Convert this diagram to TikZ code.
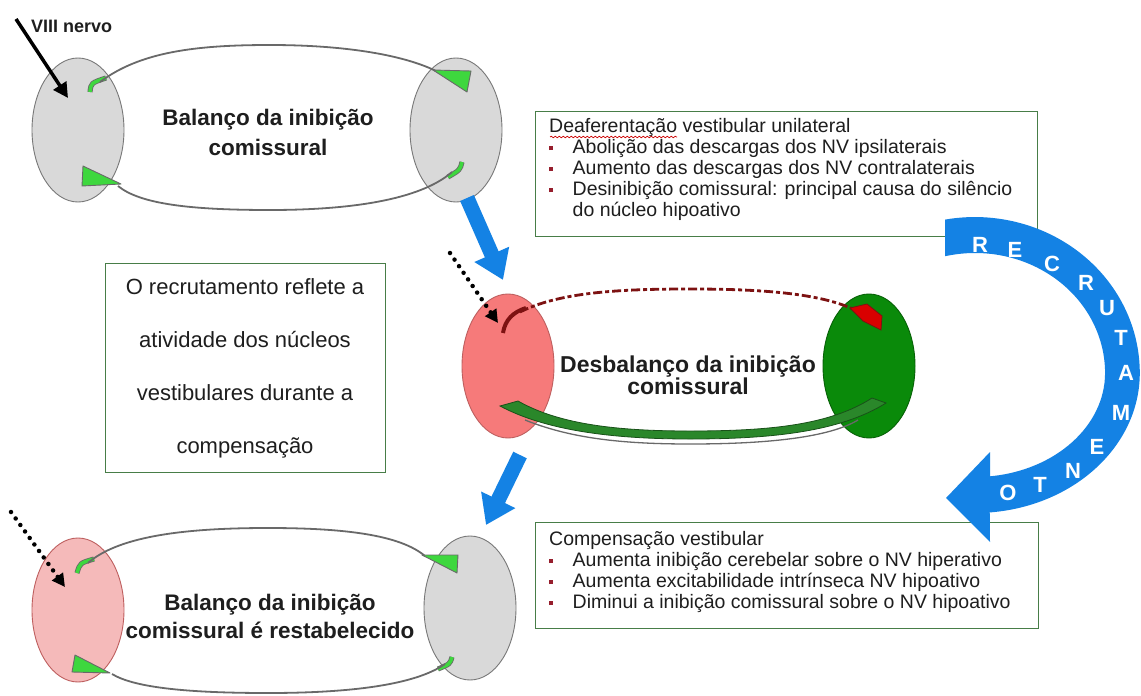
\documentclass[tikz,border=0pt]{standalone}
\usepackage{fontspec}
\setmainfont{Liberation Sans}
\usetikzlibrary{arrows.meta,shapes.geometric,calc,decorations.pathmorphing}
\definecolor{ellgray}{RGB}{217,217,217}
\definecolor{ellline}{RGB}{120,120,120}
\definecolor{arcgray}{RGB}{105,105,105}
\definecolor{lgreen}{RGB}{62,215,62}
\definecolor{salmon}{RGB}{246,122,122}
\definecolor{salmonline}{RGB}{190,95,95}
\definecolor{dgreen}{RGB}{10,138,10}
\definecolor{bandgreen}{RGB}{42,135,42}
\definecolor{pinkell}{RGB}{245,186,186}
\definecolor{boxgreen}{RGB}{72,125,72}
\definecolor{bblue}{RGB}{20,130,228}
\definecolor{bulletred}{RGB}{150,30,45}
\definecolor{dred}{RGB}{125,18,18}
\definecolor{txt}{RGB}{30,30,30}
\newcommand{\bul}{\makebox[23.5pt][l]{\textcolor{bulletred}{\rule[3pt]{4pt}{4pt}}}}
\begin{document}
\begin{tikzpicture}[x=1pt,y=-1pt,
  ell/.style={ellipse, minimum width=92pt, minimum height=144pt, inner sep=0pt, draw=ellline, line width=0.9pt},
  arcline/.style={draw=arcgray, line width=1.8pt},
  hookline/.style={draw=arcgray, line width=0.8pt, double=lgreen, double distance=3.5pt},
  headtri/.style={fill=lgreen, draw=arcgray, line width=0.9pt, line join=round},
  lbl/.style={font=\bfseries\fontsize{22.5}{30}\selectfont, align=center, inner sep=0pt, anchor=north, text=txt},
  boxframe/.style={draw=boxgreen, line width=1.3pt, fill=white, inner sep=0pt, anchor=north west},
  listtxt/.style={font=\fontsize{19.5}{21}\selectfont, align=left, anchor=north west, inner sep=0pt, text=txt},
  bluearrow/.style={draw=bblue, line width=15pt, -{Triangle[length=28pt,width=36pt]}},
  dotarrow/.style={line width=4.5pt, dash pattern=on 0pt off 8pt, line cap=round, -{Triangle[length=13pt,width=13pt]}},
  letter/.style={text=white, font=\bfseries\fontsize{22}{22}\selectfont, inner sep=0pt}
]
\useasboundingbox (0,0) rectangle (1141,696);
\fill[white] (0,0) rectangle (1141,696);

% ---------- text boxes ----------
\node[boxframe, minimum width=502pt, minimum height=125pt] (B1) at (535,111) {};
\node[listtxt] (B1t) at (549,116) {\rule{0pt}{16pt}Deaferentação vestibular unilateral\\
\bul Abolição das descargas dos NV ipsilaterais\\
\bul Aumento das descargas dos NV contralaterais\\
\bul Desinibição comissural: principal causa do silêncio\\
\makebox[23.5pt]{}do núcleo hipoativo};
\draw[red!80!black, line width=0.7pt, decorate, decoration={snake, amplitude=0.8pt, segment length=4pt}] (550,137) -- (677,137);

\node[boxframe, minimum width=503pt, minimum height=106pt] (B2) at (535,522) {};
\node[listtxt] (B2t) at (549,529) {\rule{0pt}{16pt}Compensação vestibular\\
\bul Aumenta inibição cerebelar sobre o NV hiperativo\\
\bul Aumenta excitabilidade intrínseca NV hipoativo\\
\bul Diminui a inibição comissural sobre o NV hipoativo};

\node[boxframe, minimum width=280pt, minimum height=209pt] (B3) at (105,263) {};
\node[font=\fontsize{22}{53}\selectfont, align=center, anchor=north, inner sep=0pt, text=txt] (B3t) at (245,276)
 {\rule{0pt}{18pt}O recrutamento reflete a\\atividade dos núcleos\\vestibulares durante a\\compensação};

% ---------- RECRUTAMENTO curved arrow ----------
\fill[bblue] (945,219.6) arc[start angle=-100.4, end angle=0, x radius=165, y radius=156]
  arc[start angle=0, end angle=84.8, x radius=165, y radius=140]
  -- (990,542) -- (946,498) -- (990,452) -- (990,476.3)
  arc[start angle=83.4, end angle=0, x radius=130, y radius=104]
  arc[start angle=0, end angle=-103.3, x radius=130, y radius=120] -- cycle;
\node[letter] (r1) at (980,245) {R};
\node[letter] (r2) at (1015,250) {E};
\node[letter] (r3) at (1052,264) {C};
\node[letter] (r4) at (1086,283) {R};
\node[letter] (r5) at (1107,308) {U};
\node[letter] (r6) at (1121,338) {T};
\node[letter] (r7) at (1126,373) {A};
\node[letter] (r8) at (1121,413) {M};
\node[letter] (r9) at (1097,447) {E};
\node[letter] (r10) at (1073,471) {N};
\node[letter] (r11) at (1040,485) {T};
\node[letter] (r12) at (1008,493) {O};

% ---------- top diagram ----------
\node[ell, fill=ellgray] (L1) at (78,130) {};
\node[ell, fill=ellgray] (R1) at (456,130) {};
\draw[hookline] ($(L1)+(12,-38)$) .. controls ($(L1)+(13,-47)$) .. ($(L1)+(28,-52)$);
\draw[arcline] ($(L1)+(22,-48)$) .. controls (140,52) and (195,45) .. (270,45)
  .. controls (345,45) and (405,55) .. ($(R1)+(-18,-58)$);
\filldraw[headtri] ($(R1)+(-23,-60)$) -- ($(R1)+(15,-59)$) -- ($(R1)+(11,-38)$) -- cycle;
\draw[hookline] ($(R1)+(6,32)$) .. controls ($(R1)+(4,40)$) .. ($(R1)+(-8,47)$);
\draw[arcline] ($(R1)+(-4,42)$) .. controls (420,200) and (350,210) .. (270,210)
  .. controls (190,210) and (140,204) .. ($(L1)+(40,56)$);
\filldraw[headtri] ($(L1)+(5,36)$) -- ($(L1)+(4,56)$) -- ($(L1)+(43,54)$) -- cycle;
\node[lbl] (T1) at (268,105) {\rule{0pt}{20pt}Balanço da inibição\\comissural};
\node[anchor=base west, inner sep=0pt, font=\bfseries\fontsize{18}{18}\selectfont, text=txt] (viii) at (31,32) {VIII nervo};
\coordinate (n1) at (16,19);
\draw[line width=3.5pt, -{Triangle[length=15pt,width=15pt]}] (n1) -- ($(L1)+(-10,-32)$);

% ---------- middle diagram ----------
\node[ell, fill=salmon, draw=salmonline] (L2) at (508,366) {};
\node[ell, fill=dgreen, draw=dgreen!70!black] (R2) at (869,366) {};
\filldraw[fill=bandgreen, draw=bandgreen!60!black, line width=0.8pt]
  ($(L2)+(-8,40)$) -- ($(L2)+(10,35)$) .. controls (560,425) and (620,431) .. (690,431)
  .. controls (770,431) and (830,425) .. ($(R2)+(3,32)$) -- ($(R2)+(17,37)$)
  .. controls (840,432) and (770,439) .. (690,439) .. controls (610,439) and (545,430) .. cycle;
\draw[arcgray, line width=1.3pt] ($(L2)+(17,54)$) .. controls (570,438) and (620,444) .. (690,444)
  .. controls (770,444) and (830,437) .. ($(R2)+(-11,54)$);
\draw[dred, line width=2.8pt, dash pattern=on 9pt off 3pt on 4pt off 3pt]
  ($(L2)+(12,-54)$) .. controls (560,292) and (620,289) .. (690,289)
  .. controls (760,289) and (820,293) .. ($(R2)+(-14,-56)$);
\draw[dred, line width=4pt] ($(L2)+(-5,-33)$) .. controls ($(L2)+(-3,-46)$) and ($(L2)+(5,-54)$) .. ($(L2)+(18,-58)$);
\filldraw[fill=red!85!black, draw=dred, line width=0.8pt] ($(R2)+(-19,-58)$) -- ($(R2)+(-2,-62)$) -- ($(R2)+(13,-50)$)
  -- ($(R2)+(12,-36)$) -- ($(R2)+(-6,-45)$) -- cycle;
\node[lbl, font=\bfseries\fontsize{23}{22}\selectfont] (T2) at (688,352) {\rule{0pt}{20pt}Desbalanço da inibição\\comissural};
\coordinate (d1) at (450,253);
\draw[dotarrow] (d1) -- ($(L2)+(-10,-43)$);

% ---------- bottom diagram ----------
\node[ell, fill=pinkell, draw=salmonline] (L3) at (78,610) {};
\node[ell, fill=ellgray] (R3) at (470,608) {};
\draw[hookline] ($(L3)+(-1,-37)$) .. controls ($(L3)+(2,-47)$) .. ($(L3)+(16,-51)$);
\draw[arcline] ($(L3)+(10,-47)$) .. controls (120,535) and (190,528) .. (268,528)
  .. controls (345,528) and (400,535) .. ($(R3)+(-45,-52)$);
\filldraw[headtri] ($(R3)+(-48,-53)$) -- ($(R3)+(-12,-53)$) -- ($(R3)+(-13,-35)$) -- cycle;
\draw[hookline] ($(R3)+(-18,49)$) .. controls ($(R3)+(-20,56)$) .. ($(R3)+(-32,61)$);
\draw[arcline] ($(R3)+(-25,56)$) .. controls (415,685) and (350,693) .. (268,693)
  .. controls (190,693) and (135,688) .. ($(L3)+(34,64)$);
\filldraw[headtri] ($(L3)+(-3,45)$) -- ($(L3)+(-6,62)$) -- ($(L3)+(32,63)$) -- cycle;
\node[lbl, font=\bfseries\fontsize{22.5}{28}\selectfont] (T3) at (270,590) {\rule{0pt}{20pt}Balanço da inibição\\comissural é restabelecido};
\coordinate (d2) at (11,512);
\draw[dotarrow] (d2) -- ($(L3)+(-13,-23)$);

% ---------- blue arrows between diagrams ----------
\draw[bluearrow] ($(R1)+(11,68)$) -- ($(L2)+(-5,-86)$);
\draw[bluearrow] ($(L2)+(12,89)$) -- ($(R3)+(16,-83)$);
\end{tikzpicture}
\end{document}
